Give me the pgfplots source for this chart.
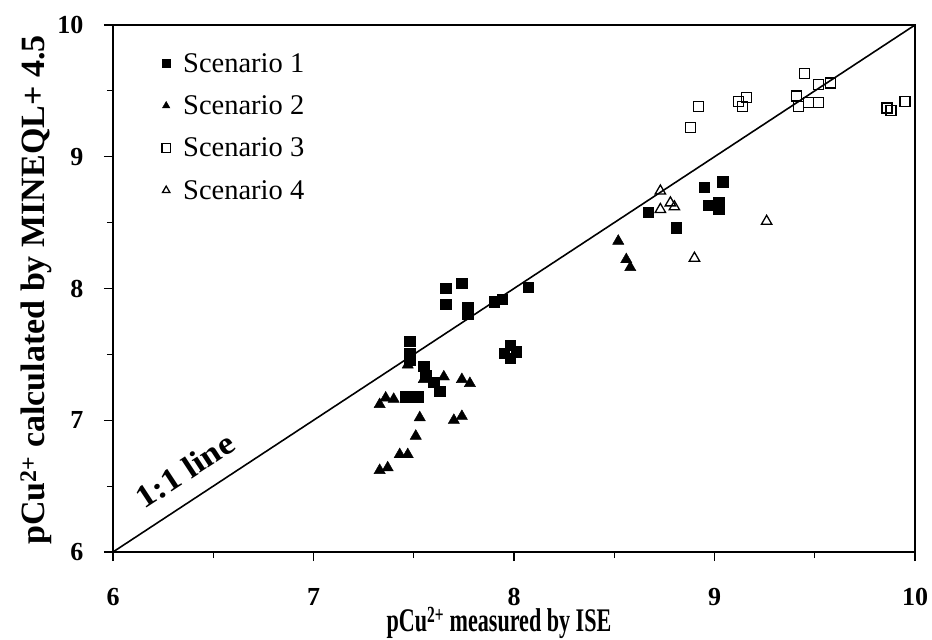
\documentclass[border=0pt]{standalone}
\usepackage{fontspec}
\setmainfont{Liberation Serif}
\usepackage{pgfplots}
\pgfplotsset{compat=1.18}
\usetikzlibrary{calc}

\pgfplotstableread{
x y
7.66 8.00
7.74 8.04
7.66 7.88
7.77 7.86
7.77 7.81
7.90 7.90
7.94 7.92
8.07 8.01
7.48 7.60
7.48 7.51
7.48 7.46
7.55 7.41
7.56 7.34
7.60 7.29
7.63 7.22
7.46 7.18
7.52 7.18
7.95 7.51
7.98 7.57
7.98 7.47
8.01 7.52
8.67 8.58
8.95 8.77
9.04 8.81
8.97 8.63
9.02 8.65
9.02 8.60
8.81 8.46
}\scenA

\pgfplotstableread{
x y
7.47 7.42
7.55 7.31
7.65 7.33
7.74 7.31
7.78 7.28
7.36 7.17
7.40 7.16
7.33 7.12
7.53 7.02
7.70 7.00
7.74 7.03
7.51 6.88
7.43 6.74
7.47 6.74
7.33 6.62
7.37 6.64
8.52 8.36
8.56 8.22
8.58 8.16
}\scenB

\pgfplotstableread{
x y
9.45 9.63
9.52 9.55
9.58 9.56
9.41 9.46
9.42 9.38
9.47 9.41
9.52 9.41
9.16 9.45
9.12 9.42
9.14 9.38
8.92 9.38
8.88 9.22
9.86 9.37
9.88 9.35
9.95 9.42
}\scenC

\pgfplotstableread{
x y
8.73 8.74
8.73 8.60
8.78 8.65
8.80 8.62
8.90 8.23
9.26 8.51
}\scenD

\begin{document}
\begin{tikzpicture}
\begin{axis}[
  scale only axis,
  width=802bp, height=527bp,
  xmin=6, xmax=10, ymin=6, ymax=10,
  xtick={6,7,8,9,10}, ytick={6,7,8,9,10},
  xticklabels={6,7,8,9,10}, yticklabels={6,7,8,9,10},
  minor xtick={6.5,7.5,8.5,9.5},
  minor ytick={6.5,7.5,8.5,9.5},
  xtick pos=bottom, ytick pos=left,
  tick align=outside,
  major tick length=9bp, minor tick length=6bp,
  axis line style={line width=1.2pt},
  every tick/.style={black, line width=1.2pt},
  xticklabel style={font=\fontsize{26bp}{28bp}\selectfont\bfseries, yshift=-24bp},
  yticklabel style={font=\fontsize{26bp}{28bp}\selectfont\bfseries, xshift=-17bp},
  legend style={draw=none, fill=none,
    font=\fontsize{28.5bp}{30bp}\selectfont,
    at={(rel axis cs:0,1)}, anchor=north west, xshift=40bp, yshift=-24bp,
    row sep=18bp},
  legend cell align=left,
  legend image code/.code={\path[draw=none, fill=none] (0bp,-2bp) rectangle (25bp,2bp);
    \draw[#1, only marks, mark size=4.3bp] plot coordinates {(10bp,0bp)};},
]
\coordinate (bl) at (rel axis cs:0,0);
\addplot[only marks, mark=square*, mark size=5.2bp, black] table {\scenA};
\addplot[only marks, mark=triangle*, mark size=6.5bp, black] table {\scenB};
\addplot[only marks, mark=square, mark size=5bp, black, line width=1.3pt] table {\scenC};
\addplot[only marks, mark=triangle, mark size=6bp, black, line width=1.3pt] table {\scenD};
\legend{Scenario 1, Scenario 2, Scenario 3, Scenario 4}
\addplot[black, line width=1.6pt, forget plot] coordinates {(6,6) (10,10)};
\node[font=\fontsize{32bp}{34bp}\selectfont\bfseries, rotate=33.3, xscale=1.1]
  at (axis cs:6.36,6.62) {1:1 line};
\end{axis}
\node[font=\fontsize{33bp}{35bp}\selectfont\bfseries, xscale=0.67, anchor=base]
  at ($(bl)+(386bp,-79bp)$) {pCu\textsuperscript{2+} measured by ISE};
\node[font=\fontsize{34bp}{36bp}\selectfont\bfseries, rotate=90, anchor=base]
  at ($(bl)+(-68bp,262bp)$) {pCu\textsuperscript{2+} calculated by MINEQL+ 4.5};
\pgfresetboundingbox
\path ($(bl)+(-113bp,-88bp)$) rectangle ($(bl)+(819bp,552bp)$);
\end{tikzpicture}
\end{document}
